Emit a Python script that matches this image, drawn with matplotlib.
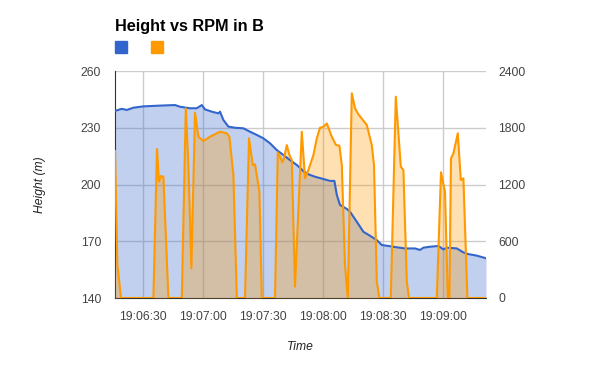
import matplotlib
matplotlib.use('Agg')
import matplotlib.pyplot as plt
from matplotlib.patches import Rectangle
from matplotlib.ticker import FuncFormatter, MultipleLocator

# seconds after 19:06:00
height_t = [16.0, 19.4, 21.9, 25.2, 30.2, 38.5, 46.0, 48.5, 53.5, 56.9, 59.4, 61.0,
            64.4, 67.7, 68.5, 70.2, 72.7, 76.0, 80.2, 83.5, 86.9, 90.2, 93.5, 96.9,
            100.2, 103.5, 106.9, 110.2, 112.7, 116.0, 120.2, 123.5, 125.7, 126.9,
            128.5, 131.9, 133.5, 136.9, 140.2, 143.5, 146.9, 149.4, 152.7, 156.9,
            161.0, 166.0, 168.5, 170.2, 173.5, 177.7, 180.2, 181.9, 186.9, 190.2,
            192.7, 196.9, 201.5]
height_m = [238.9, 240.0, 239.4, 240.6, 241.3, 241.7, 242.0, 241.1, 240.3, 240.3, 242.0, 239.7,
            238.5, 237.6, 238.5, 234.1, 230.6, 230.0, 229.7, 227.9, 226.2, 224.4, 221.8, 218.2,
            215.6, 212.9, 210.3, 207.1, 205.4, 204.1, 202.9, 201.9, 201.9, 194.5,
            189.2, 187.1, 185.6, 180.3, 175.0, 172.9, 170.6, 168.0, 167.5, 166.8,
            166.2, 166.2, 165.4, 166.6, 167.1, 167.5, 165.7, 166.6, 166.2, 164.1,
            163.2, 162.4, 161.0]

rpm_t = [16.0, 17.2, 19.0, 35.2, 37.0, 38.0, 39.0, 40.2, 42.7, 49.4, 51.4, 52.7, 54.2,
         56.0, 57.7, 60.2, 63.5, 68.5, 71.9, 73.2, 75.2, 76.9, 81.0, 83.0, 84.9, 86.0,
         88.2, 89.4, 96.0, 97.4, 98.5, 99.7, 100.5, 101.9, 103.2, 104.4, 106.0, 109.4,
         111.0, 112.7, 115.2, 116.9, 118.5, 120.2, 121.9, 124.4, 126.5, 128.2, 129.4,
         131.0, 132.4, 134.4, 136.0, 137.7, 141.9, 144.4, 145.5, 146.9, 148.2, 153.9,
         156.4, 158.9, 160.2, 161.9, 163.0, 176.9, 179.0, 181.0, 182.4, 183.2, 184.0,
         185.2, 187.4, 188.9, 190.2, 192.2, 201.5]
rpm = [1554, 350, 0, 0, 1575, 1229, 1289, 1282, 0, 0, 2005, 1406, 314,
       1959, 1705, 1660, 1705, 1758, 1741, 1705, 1300, 0, 0, 1688, 1406, 1413,
       1124, 0, 0, 1540, 1494, 1434, 1476, 1617, 1511, 1459, 120, 1758,
       1265, 1353, 1511, 1688, 1800, 1811, 1846, 1705, 1617, 1610, 1406,
       349, 0, 2164, 2005, 1942, 1829, 1617, 1406, 172, 0, 0,
       2128, 1388, 1353, 172, 0, 0, 1329, 1124, 0, 0, 1476,
       1529, 1741, 1247, 1265, 0, 0]

title = 'Height vs RPM in B'
blue = '#3366cc'
orange = '#ff9900'

plt.rcParams['font.family'] = ['Liberation Sans', 'DejaVu Sans']

fig = plt.figure(figsize=(6, 3.71), dpi=100)
ax1 = fig.add_axes([115 / 600, 73 / 371, 371 / 600, 227 / 371])
ax2 = ax1.twinx()

ax1.fill_between(height_t, height_m, 140, color=blue, alpha=0.3, linewidth=0)
ax2.fill_between(rpm_t, rpm, 0, color=orange, alpha=0.3, linewidth=0)
# height line goes on top of the rpm fill
ax2.plot(height_t, height_m, color=blue, lw=1.5, transform=ax1.transData, zorder=3)
ax2.plot(rpm_t, rpm, color=orange, lw=1.5, zorder=4)

ax1.set_xlim(16, 201.5)
ax1.set_ylim(140, 260)
ax2.set_ylim(0, 2400)
ax1.set_yticks([140, 170, 200, 230, 260])
ax2.set_yticks([0, 600, 1200, 1800, 2400])
ax1.xaxis.set_major_locator(MultipleLocator(30))


def fmt_time(s, pos):
    s = int(round(s))
    return '19:%02d:%02d' % (6 + s // 60, s % 60)


ax1.xaxis.set_major_formatter(FuncFormatter(fmt_time))

ax1.grid(True, color='#cccccc', lw=1)
ax1.set_axisbelow(True)
for ax in (ax1, ax2):
    for side in ('top', 'right'):
        ax.spines[side].set_visible(False)
    ax.tick_params(length=0, labelsize=8.7, colors='#444444')
ax2.spines['left'].set_visible(False)
ax2.spines['bottom'].set_visible(False)
ax1.spines['left'].set_color('#333333')
ax1.spines['bottom'].set_color('#333333')
ax1.tick_params(axis='x', pad=9)
ax1.tick_params(axis='y', pad=10)
ax2.tick_params(axis='y', pad=9)

ax1.set_xlabel('Time', style='italic', fontsize=8.7, color='#222222')
ax1.xaxis.set_label_coords(0.5, -0.19)
ax1.set_ylabel('Height (m)', style='italic', fontsize=8.7, color='#222222')
ax1.yaxis.set_label_coords(-0.186, 0.5)

fig.text(115 / 600, 1 - 31 / 371, title, fontsize=11.7, fontweight='bold')
fig.patches.append(Rectangle((115 / 600, 1 - 53 / 371), 12 / 600, 12 / 371,
                             transform=fig.transFigure, color=blue))
fig.patches.append(Rectangle((151 / 600, 1 - 53 / 371), 12 / 600, 12 / 371,
                             transform=fig.transFigure, color=orange))

fig.savefig('out.png', dpi=100)
